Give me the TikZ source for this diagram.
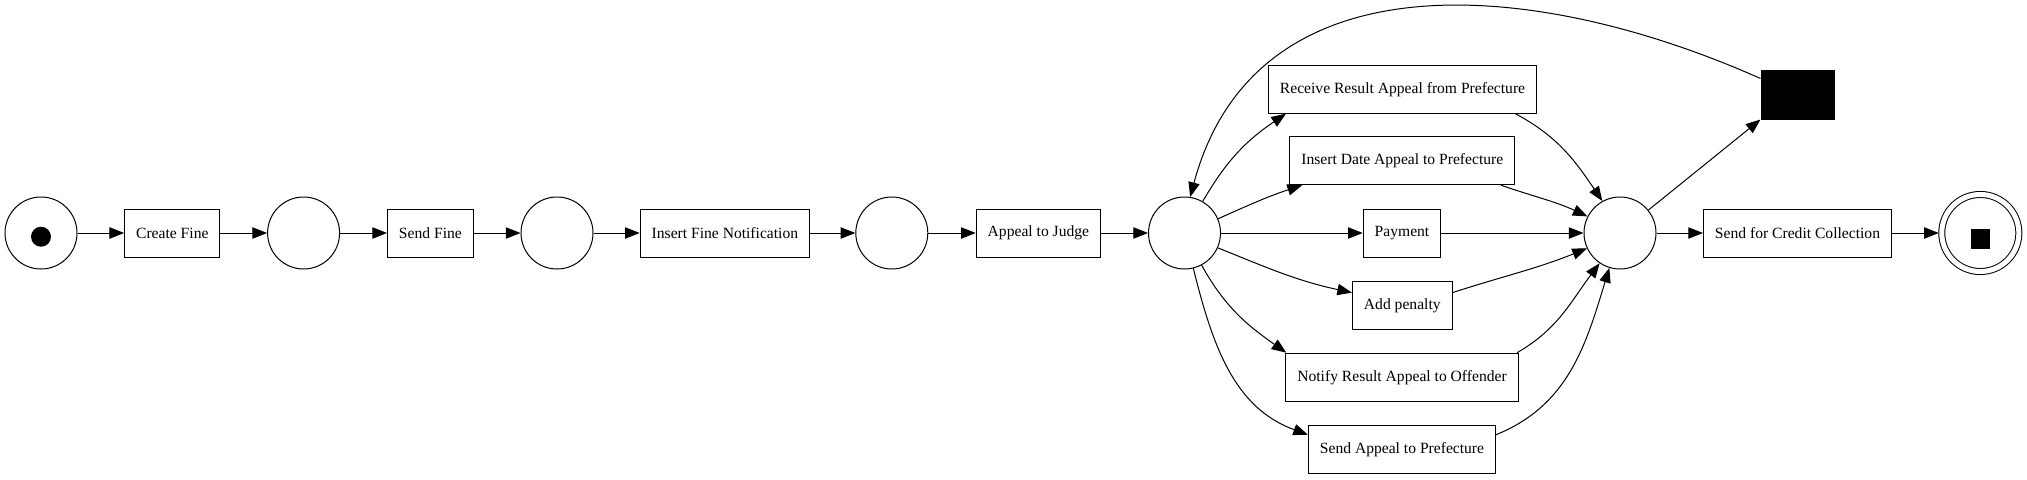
\documentclass[tikz,border=0pt]{standalone}
\usepackage{fontspec}
\setmainfont{Liberation Serif}
\usetikzlibrary{arrows.meta}

\begin{document}
\begin{tikzpicture}[x=0.75pt,y=0.75pt,>={Triangle[length=11pt,width=8.5pt]},line width=0.75pt,
		place/.style={circle,draw,minimum size=54pt,inner sep=0pt},
		trans/.style={rectangle,draw,minimum height=36pt,inner xsep=8.6pt,font=\fontsize{11.7}{14}\selectfont},
		silent/.style={rectangle,draw,fill=black,minimum width=54.75pt,minimum height=36.75pt},
		token/.style={circle,fill=black,minimum size=15pt,inner sep=0pt},
		endmark/.style={rectangle,fill=black,minimum size=14.5pt,inner sep=0pt}]
				\useasboundingbox (0,233) rectangle (2027,-246);
				% main line
				\node[place] (p0) at (41,0) {};
				\node[token] (tok) at ([yshift=-2.8pt]p0) {};
				\node[trans] (cf) at (172.3,0) {Create Fine};
				\node[place] (p1) at (303.6,0) {};
				\node[trans] (sf) at (430.4,0) {Send Fine};
				\node[place] (p2) at (557,0) {};
				\node[trans] (ifn) at (724.9,0) {Insert Fine Notification};
				\node[place] (p3) at (891.8,0) {};
				\node[trans] (aj) at (1038.4,0) {Appeal to Judge};
				\node[place] (p4) at (1184.5,0) {};
				% choices
				\node[trans] (rr) at (1402.5,143.8) {Receive Result Appeal from Prefecture};
				\node[trans] (ida) at (1402.3,72.2) {Insert Date Appeal to Prefecture};
				\node[trans] (pay) at (1402,0) {Payment};
				\node[trans] (ap) at (1402.3,-72.5) {Add penalty};
				\node[trans] (nr) at (1402,-144.2) {Notify Result Appeal to Offender};
				\node[trans] (sa) at (1402,-216.2) {Send Appeal to Prefecture};
				\node[place] (p5) at (1620,0) {};
				\node[silent] (tau) at (1797.5,138.5) {};
				\node[trans] (scc) at (1797.5,0) {Send for Credit Collection};
				\node[place,double,double distance=3.75pt,minimum size=57.8pt,outer sep=2.25pt] (p6) at (1980.3,0) {};
				\node[endmark] (fin) at ([yshift=-4.5pt]p6) {};
				% arcs
				\draw[->] (p0) -- (cf);
				\draw[->] (cf) -- (p1);
				\draw[->] (p1) -- (sf);
				\draw[->] (sf) -- (p2);
				\draw[->] (p2) -- (ifn);
				\draw[->] (ifn) -- (p3);
				\draw[->] (p3) -- (aj);
				\draw[->] (aj) -- (p4);
				\draw[->] (p4.60) to[out=60,in=214] ([xshift=13.5pt]rr.south west);
				\draw[->] (p4.23) to[out=24,in=198] ([xshift=9.5pt]ida.south west);
				\draw[->] (p4) -- (pay);
				\draw[->] (p4.-24) to[out=-22,in=168] ([yshift=-8.7pt]ap.north west);
				\draw[->] (p4.-62) to[out=-61,in=145] ([xshift=0.75pt]nr.north west);
				\draw[->] (p4.-76) to[out=-76,in=160] ([yshift=-7.5pt]sa.north west);
				\draw[->] ([xshift=-16.3pt]rr.south east) to[out=-28,in=124] (p5.119);
				\draw[->] ([xshift=-10.5pt]ida.south east) to[out=-19,in=155] (p5.153);
				\draw[->] (pay) -- (p5);
				\draw[->] ([yshift=-8.7pt]ap.north east) to[out=18,in=202] (p5.205);
				\draw[->] ([xshift=-1.2pt]nr.north east) to[out=30,in=233] (p5.236);
				\draw[->] ([yshift=-7.5pt]sa.north east) to[out=22,in=253] (p5.253);
				\draw[->] (p5) -- (tau.south west);
				\draw[->] ([yshift=-6.75pt]tau.north west) to[out=156,in=75,looseness=1.1] (p4.81);
				\draw[->] (p5) -- (scc);
				\draw[->] (scc) -- (p6);
			\end{tikzpicture}
\end{document}
